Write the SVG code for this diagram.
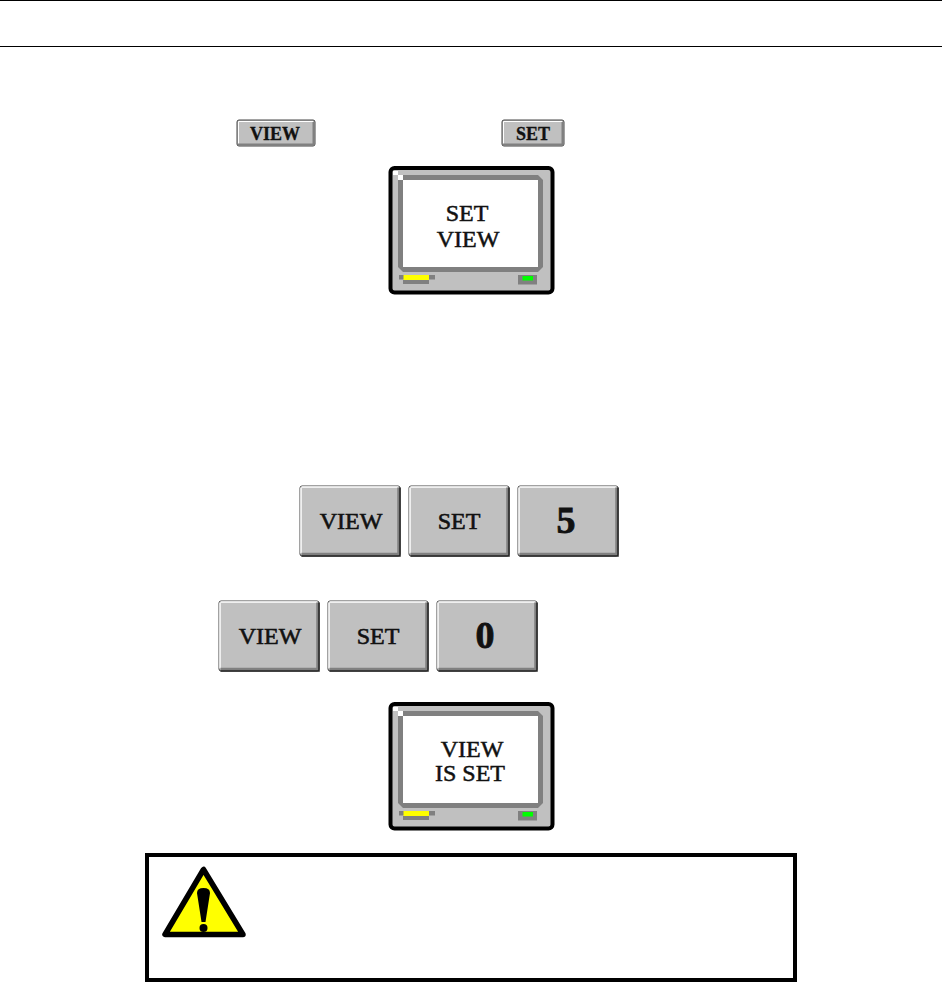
<svg xmlns="http://www.w3.org/2000/svg" width="942" height="982" viewBox="0 0 942 982">
<style>
text{font-family:"Liberation Serif","Times New Roman",serif;fill:#111;text-anchor:middle}
.lbl{font-size:24px;stroke:#111;stroke-width:.6px}
.sm{font-size:18px;font-weight:bold;stroke:#111;stroke-width:.3px}
.num{font-size:38px;font-weight:bold;stroke:#111;stroke-width:.8px}
.mon{font-size:24px;stroke:#111;stroke-width:.5px}
</style>
<defs>
<g id="screen">
<rect x="390.5" y="168" width="162" height="124.500" rx="4" fill="#c0c0c0" stroke="#000" stroke-width="4"/>
<path d="M398 175H538L543 180V267L538 272H403L398 267Z" fill="#808080"/>
<rect x="403" y="180" width="135" height="87" fill="#fff"/>
<rect x="393" y="171" width="5" height="4" fill="#fff"/>
<rect x="398" y="175" width="5" height="5" fill="#fff"/>
<rect x="399" y="275" width="36" height="4.500" fill="#808080"/>
<rect x="403" y="280" width="26" height="4" fill="#808080"/>
<rect x="403.500" y="275" width="25.500" height="5" fill="#ff0"/>
<rect x="518" y="275" width="19" height="9.500" fill="#808080"/>
<rect x="522.500" y="276" width="10.500" height="4.500" fill="#0f0"/>
</g>
<g id="key">
<rect x="0.500" y="0.500" width="100" height="70" rx="2" fill="#c0c0c0" stroke="#444"/>
<path d="M2 1.500H99" stroke="#fff" stroke-width="1.500" fill="none"/>
<path d="M1.500 2V68" stroke="#fff" stroke-width="1.500" fill="none"/>
<path d="M2 68.500H99V2" stroke="#808080" stroke-width="2.500" fill="none"/>
<path d="M2 70.500H100.500V2" stroke="#222" stroke-width="1.500" fill="none"/>
</g>
</defs>
<g id="rules" stroke="#000" stroke-width="1">
<line x1="0" y1="0.500" x2="942" y2="0.500"/>
<line x1="0" y1="46.500" x2="942" y2="46.500"/>
</g>
<g id="btn-view-small">
<rect x="237" y="120" width="78" height="26" rx="2" fill="#c0c0c0" stroke="#444"/>
<path d="M238.500 121.500H313M238.500 121.500V144" stroke="#fff" fill="none"/>
<path d="M238 144.500H313.500V122" stroke="#808080" stroke-width="2" fill="none"/>
<text class="sm" x="275" y="139.500">VIEW</text>
</g>
<g id="btn-set-small">
<rect x="502" y="120" width="62" height="26" rx="2" fill="#c0c0c0" stroke="#444"/>
<path d="M503.500 121.500H562M503.500 121.500V144" stroke="#fff" fill="none"/>
<path d="M503 144.500H562.500V122" stroke="#808080" stroke-width="2" fill="none"/>
<text class="sm" x="533" y="139.500">SET</text>
</g>
<g id="monitor-set-view">
<use href="#screen"/>
<text class="mon" x="467" y="221">SET</text>
<text class="mon" x="468" y="247">VIEW</text>
</g>
<g id="key-view-1"><use href="#key" x="299.500" y="485.500"/><text class="lbl" x="351" y="529">VIEW</text></g>
<g id="key-set-1"><use href="#key" x="408.500" y="485.500"/><text class="lbl" x="459" y="529">SET</text></g>
<g id="key-5"><use href="#key" x="517.500" y="485.500"/><text class="num" x="566" y="533">5</text></g>
<g id="key-view-2"><use href="#key" x="218.500" y="600.500"/><text class="lbl" x="270" y="644">VIEW</text></g>
<g id="key-set-2"><use href="#key" x="327.500" y="600.500"/><text class="lbl" x="378" y="644">SET</text></g>
<g id="key-0"><use href="#key" x="436.500" y="600.500"/><text class="num" x="485" y="648">0</text></g>
<g id="monitor-view-is-set">
<use href="#screen" y="536"/>
<text class="mon" x="472" y="757">VIEW</text>
<text class="mon" x="470" y="781">IS SET</text>
</g>
<g id="warning">
<rect x="147" y="855" width="648" height="125" fill="#fff" stroke="#000" stroke-width="4"/>
<path d="M203.500 869.500L165 934.500H243Z" fill="#ff0" stroke="#000" stroke-width="5.500" stroke-linejoin="round"/>
<path d="M197 893Q197 888 203.500 888Q210 888 210 893L205.500 922H201.500Z" fill="#000"/>
<circle cx="203.500" cy="928" r="4" fill="#000"/>
</g>
</svg>
